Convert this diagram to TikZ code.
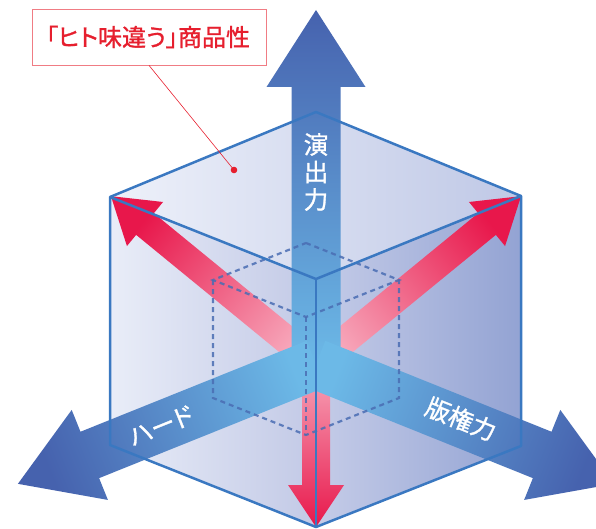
\documentclass[tikz,border=0pt]{standalone}
\usepackage{fontspec}
\setmainfont{Noto Sans CJK JP}
\newfontfamily\jpfont[RawFeature=+palt, FakeBold=1.2]{Noto Sans CJK JP}
\usetikzlibrary{calc}
\definecolor{edgeblue}{HTML}{3A78C1}
\definecolor{dashblue}{HTML}{4A6DB3}
\definecolor{bluedark}{HTML}{4662AE}
\definecolor{bluelight}{HTML}{6CB9E7}
\definecolor{redtip}{HTML}{E8174B}
\definecolor{redpink}{HTML}{F7A9BC}
\definecolor{titlered}{HTML}{E61F2E}
\definecolor{boxred}{HTML}{F07C84}
\definecolor{lfA}{HTML}{E9EDF8}
\definecolor{lfB}{HTML}{C2C9E6}
\definecolor{rfA}{HTML}{C5CCE8}
\definecolor{rfB}{HTML}{93A3D3}
\definecolor{tfA}{HTML}{EEF1FA}
\definecolor{tfB}{HTML}{BFC8E6}
\tikzset{
  cubeedge/.style={draw=edgeblue, line width=2.5pt, line join=round},
  innerdash/.style={draw=dashblue, line width=2.2pt, dash pattern=on 5pt off 4pt, draw opacity=0.85},
  leader/.style={draw=titlered, line width=0.6pt},
  whitelabel/.style={text=white, inner sep=0pt, font=\jpfont\fontsize{24.5}{27.5}\selectfont}
}
% #1 options, #2 origin, #3 angle, #4 length, #5 shaft half width, #6 head half width, #7 head length
\newcommand\myarrow[7]{%
  \begin{scope}[shift={#2}, rotate=#3]
    \path[#1] (0,-#5) -- ({#4-#7},-#5) -- ({#4-#7},-#6) -- (#4,0) -- ({#4-#7},#6) -- ({#4-#7},#5) -- (0,#5) -- cycle;
  \end{scope}}
\begin{document}
\begin{tikzpicture}[x=1pt,y=-1pt]
\useasboundingbox (0,0) rectangle (596,529);
% outer cube vertices
\coordinate (T) at (316,112);
\coordinate (R) at (521,196);
\coordinate (L) at (110,197);
\coordinate (F) at (316,279);
\coordinate (B) at (316,527);
\coordinate (LB) at (110,445);
\coordinate (RB) at (521,446);
\coordinate (C) at (316,364);
% faces
\fill[left color=lfA, right color=lfB] (L) -- (F) -- (B) -- (LB) -- cycle;
\fill[left color=rfA, right color=rfB] (F) -- (R) -- (RB) -- (B) -- cycle;
\fill[left color=tfA, right color=tfB] (T) -- (R) -- (F) -- (L) -- cycle;
% red arrows
\myarrow{top color=redtip, bottom color=redpink, shading angle=-50.7}{(C)}{39.3}{265}{14}{28.5}{44}
\myarrow{top color=redtip, bottom color=redpink, shading angle=50.7}{(C)}{140.7}{265}{14}{28.5}{44}
\myarrow{top color=redtip, bottom color=redpink, shading angle=180}{(C)}{-90}{163}{14}{28}{42}
% blue arrows
\myarrow{top color=bluedark, bottom color=bluelight, shading angle=0}{(C)}{90}{354}{24.5}{49.5}{77}
\myarrow{top color=bluedark, bottom color=bluelight, shading angle=111.9}{(C)}{201.9}{321.3}{25}{48.5}{77.5}
\myarrow{top color=bluedark, bottom color=bluelight, shading angle=-111.9}{(C)}{-21.9}{321.3}{25}{48.5}{77.5}
% inner dashed cube
\coordinate (iT) at (306,243);
\coordinate (iL) at (213,280);
\coordinate (iF) at (306,317);
\coordinate (iR) at (399,280);
\coordinate (iLB) at (213,398);
\coordinate (iB) at (306,435);
\coordinate (iRB) at (399,398);
\draw[innerdash] (iT) -- (iR) -- (iF) -- (iL) -- cycle;
\draw[innerdash] (iL) -- (iLB) -- (iB) -- (iRB) -- (iR);
\draw[innerdash] (iF) -- (iB);
% outer cube edges
\draw[cubeedge] (T) -- (R) -- (RB) -- (B) -- (LB) -- (L) -- cycle;
\draw[cubeedge] (L) -- (F) -- (R);
\draw[cubeedge] (F) -- (B);
% labels
\node[whitelabel, align=center] (lv) at (316,172) {演\\出\\力};
\node[whitelabel, rotate=21.9] (ll) at (161,426) {ハード};
\node[whitelabel, rotate=-21.9] (lr) at (461,419) {版権力};
% callout
\node[draw=boxred, line width=0.8pt, fill=white, minimum width=234pt, minimum height=56pt, inner sep=0pt] (cb) at (149,37) {};
\node[text=titlered, inner sep=0pt, font=\jpfont\fontsize{24}{26}\selectfont] (ct) at (148,37) {「ヒト味違う」商品性};
\coordinate (dot) at (234,170);
\draw[leader] (cb.south) -- (dot);
\fill[titlered] (dot) circle (3.3pt);
\end{tikzpicture}
\end{document}
